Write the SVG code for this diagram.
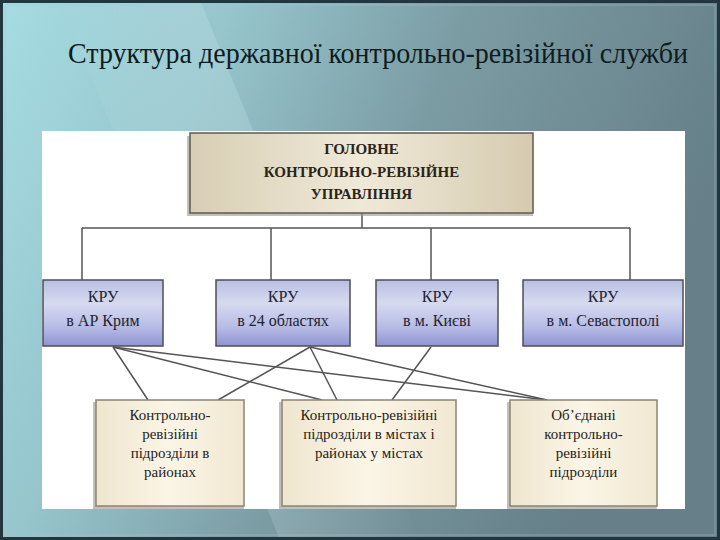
<svg xmlns="http://www.w3.org/2000/svg" width="720" height="540" viewBox="0 0 720 540">
  <defs>
    <linearGradient id="bg" x1="0" y1="0" x2="1" y2="0.3">
      <stop offset="0" stop-color="#a6dce3"/>
      <stop offset="0.3" stop-color="#96c5cc"/>
      <stop offset="0.6" stop-color="#7c9ca4"/>
      <stop offset="1" stop-color="#667f88"/>
    </linearGradient>
    <linearGradient id="streak" x1="0" y1="0" x2="1" y2="0">
      <stop offset="0" stop-color="#ffffff" stop-opacity="0"/>
      <stop offset="0.5" stop-color="#e8fbff" stop-opacity="0.18"/>
      <stop offset="1" stop-color="#ffffff" stop-opacity="0"/>
    </linearGradient>
    <linearGradient id="topfill" x1="0" y1="0" x2="1" y2="0">
      <stop offset="0" stop-color="#d8ceb4"/>
      <stop offset="0.5" stop-color="#efe9d8"/>
      <stop offset="1" stop-color="#d6cbb0"/>
    </linearGradient>
    <linearGradient id="krufill" x1="0" y1="0" x2="0" y2="1">
      <stop offset="0" stop-color="#b9bfe3"/>
      <stop offset="0.35" stop-color="#d6daf0"/>
      <stop offset="0.7" stop-color="#b8bde6"/>
      <stop offset="1" stop-color="#8e95d2"/>
    </linearGradient>
    <linearGradient id="subfill" x1="0" y1="0" x2="1" y2="0">
      <stop offset="0" stop-color="#efe6cf"/>
      <stop offset="0.5" stop-color="#fbf5e6"/>
      <stop offset="1" stop-color="#f1e8d2"/>
    </linearGradient>
    <style>
      .title { font-family: "Liberation Serif", "Times New Roman", serif; font-size: 29px; fill: #0d1c22; }
      .head { font-family: "Liberation Serif", "Times New Roman", serif; font-size: 15px; font-weight: bold; fill: #2a2418; text-anchor: middle; }
      .kru { font-family: "Liberation Serif", "Times New Roman", serif; font-size: 16px; fill: #23232f; text-anchor: middle; }
      .sub { font-family: "Liberation Serif", "Times New Roman", serif; font-size: 15px; fill: #26221a; text-anchor: middle; }
      .box-top { fill: url(#topfill); stroke: #5e5a52; stroke-width: 1.5; }
      .box-kru { fill: url(#krufill); stroke: #4e4e58; stroke-width: 1.5; }
      .box-sub { fill: url(#subfill); stroke: #8c8474; stroke-width: 1.5; }
      .shadow { fill: #9a968c; opacity: 0.6; }
      .conn line { stroke: #545454; stroke-width: 1.5; fill: none; }
    </style>
  </defs>

  <!-- background -->
  <rect x="0" y="0" width="720" height="540" fill="url(#bg)"/>
  <polygon points="60,0 200,0 420,540 280,540" fill="url(#streak)"/>
  <rect x="1.5" y="1.5" width="717" height="537" fill="none" stroke="#21363e" stroke-width="3"/>
  <rect x="5" y="5" width="710" height="530" fill="none" stroke="#a9c4c9" stroke-width="1" opacity="0.5"/>

  <text class="title" x="68" y="63" textLength="620" lengthAdjust="spacingAndGlyphs">Структура державної контрольно-ревізійної служби</text>

  <!-- white panel -->
  <rect x="42" y="131" width="643" height="378" fill="#ffffff"/>

  <!-- connectors -->
  <g id="connectors" class="conn">
    <line x1="362" y1="213" x2="362" y2="228"/>
    <line x1="82" y1="228" x2="630" y2="228"/>
    <line x1="82" y1="228" x2="82" y2="280"/>
    <line x1="271" y1="228" x2="271" y2="280"/>
    <line x1="431" y1="228" x2="431" y2="280"/>
    <line x1="630" y1="228" x2="630" y2="280"/>
    <line x1="113" y1="347" x2="148" y2="400"/>
    <line x1="113" y1="347" x2="322" y2="400"/>
    <line x1="113" y1="347" x2="547" y2="400"/>
    <line x1="310" y1="347" x2="218" y2="400"/>
    <line x1="310" y1="347" x2="337" y2="400"/>
    <line x1="310" y1="347" x2="547" y2="400"/>
    <line x1="431" y1="347" x2="392" y2="400"/>
  </g>

  <!-- main box -->
  <g id="node-main">
    <rect class="shadow" x="187" y="136" width="346" height="80"/>
    <rect class="box-top" x="190" y="133" width="343" height="80"/>
    <text class="head" x="361.5" y="154">ГОЛОВНЕ</text>
    <text class="head" x="361.5" y="177">КОНТРОЛЬНО-РЕВІЗІЙНЕ</text>
    <text class="head" x="361.5" y="199">УПРАВЛІННЯ</text>
  </g>

  <!-- KRU boxes -->
  <g id="node-kru-crimea">
    <rect class="box-kru" x="43" y="280" width="120" height="66"/>
    <text class="kru" x="103" y="302">КРУ</text>
    <text class="kru" x="103" y="326">в АР Крим</text>
  </g>
  <g id="node-kru-oblasts">
    <rect class="box-kru" x="216" y="280" width="134" height="66"/>
    <text class="kru" x="283" y="302">КРУ</text>
    <text class="kru" x="283" y="326">в 24 областях</text>
  </g>
  <g id="node-kru-kyiv">
    <rect class="box-kru" x="376" y="280" width="122" height="66"/>
    <text class="kru" x="437" y="302">КРУ</text>
    <text class="kru" x="437" y="326">в м. Києві</text>
  </g>
  <g id="node-kru-sevastopol">
    <rect class="box-kru" x="523" y="280" width="160" height="66"/>
    <text class="kru" x="603" y="302">КРУ</text>
    <text class="kru" x="603" y="326">в м. Севастополі</text>
  </g>

  <!-- sub-unit boxes -->
  <g id="node-districts">
    <rect class="shadow" x="93" y="402" width="151" height="107"/>
    <rect class="box-sub" x="96" y="400" width="148" height="106"/>
    <text class="sub" x="170" y="420">Контрольно-</text>
    <text class="sub" x="170" y="439">ревізійні</text>
    <text class="sub" x="170" y="458">підрозділи в</text>
    <text class="sub" x="170" y="477">районах</text>
  </g>
  <g id="node-cities">
    <rect class="shadow" x="279" y="402" width="177" height="107"/>
    <rect class="box-sub" x="282" y="400" width="174" height="106"/>
    <text class="sub" x="369" y="420">Контрольно-ревізійні</text>
    <text class="sub" x="369" y="439">підрозділи в містах і</text>
    <text class="sub" x="369" y="458">районах у містах</text>
  </g>
  <g id="node-united">
    <rect class="shadow" x="507" y="402" width="150" height="107"/>
    <rect class="box-sub" x="510" y="400" width="147" height="106"/>
    <text class="sub" x="583.5" y="420">Об’єднані</text>
    <text class="sub" x="583.5" y="439">контрольно-</text>
    <text class="sub" x="583.5" y="458">ревізійні</text>
    <text class="sub" x="583.5" y="477">підрозділи</text>
  </g>
</svg>
